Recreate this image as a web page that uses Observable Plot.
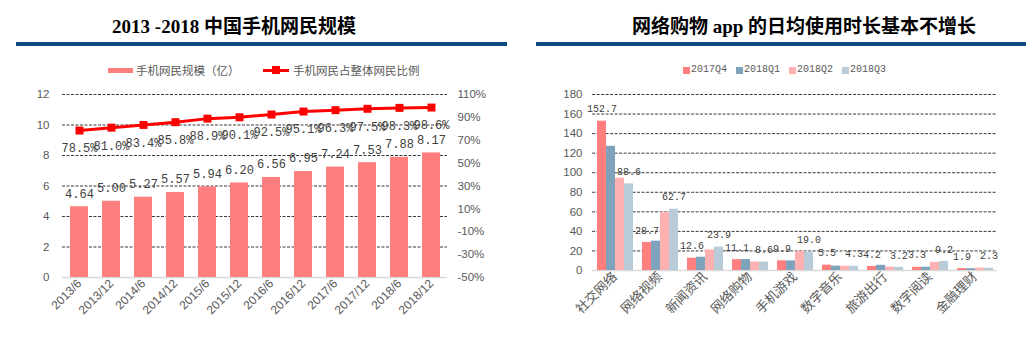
<!DOCTYPE html>
<html><head><meta charset="utf-8">
<script src="https://cdn.jsdelivr.net/npm/d3@7"></script>
<script src="https://cdn.jsdelivr.net/npm/@observablehq/plot@0.6"></script>
<style>
body{margin:0;background:#fff;width:1034px;height:345px;position:relative;overflow:hidden;font-family:"Liberation Sans",Arial,sans-serif;}
.title{position:absolute;top:14px;font-family:"Liberation Serif","Noto Sans CJK SC",serif;font-weight:bold;font-size:19px;color:#000;white-space:nowrap;transform:translateX(-50%);line-height:26px}
.rule{position:absolute;top:42px;height:4px;background:#0d4a80}
.lg{position:absolute;top:62px;height:16px;line-height:16px;font-size:11.5px;color:#595959;white-space:nowrap;font-family:"Noto Sans CJK SC",sans-serif}
.lgm{position:absolute;top:62px;height:16px;line-height:16px;font-size:10px;color:#595959;white-space:nowrap;font-family:"Liberation Mono",monospace}
.sw{position:absolute}
.plot{position:absolute;top:80px}
</style></head>
<body>
<div class="title" style="left:234px">2013 -2018 中国手机网民规模</div>
<div class="rule" style="left:16px;width:491px"></div>
<div class="title" style="left:804px">网络购物 app 的日均使用时长基本不增长</div>
<div class="rule" style="left:536px;width:490px"></div>
<div id="legL"></div>
<div id="legR"></div>
<div id="left" class="plot" style="left:0"></div>
<div id="right" class="plot" style="left:520px"></div>
<script>
// ---- Left chart data ----
const periods = ["2013/6","2013/12","2014/6","2014/12","2015/6","2015/12","2016/6","2016/12","2017/6","2017/12","2018/6","2018/12"];
const users = [4.64,5.00,5.27,5.57,5.94,6.20,6.56,6.95,7.24,7.53,7.88,8.17];
const shares = [78.5,81.0,83.4,85.8,88.9,90.1,92.5,95.1,96.3,97.5,98.3,98.6];
const leftTicks = [0,2,4,6,8,10,12];
const pctTicks = [-50,-30,-10,10,30,50,70,90,110];
const pctMin = -50, pctMax = 110;
const leftSeries = ["手机网民规模（亿）","手机网民占整体网民比例"];

// ---- Right chart data ----
const apps = ["社交网络","网络视频","新闻资讯","网络购物","手机游戏","数字音乐","旅游出行","数字阅读","金融理财"];
const quarters = ["2017Q4","2018Q1","2018Q2","2018Q3"];
const q2017Q4 = [152.7,28.7,12.6,11.1,9.9,5.5,4.2,3.3,1.9];
const q2018Q1 = [127.0,30.0,13.6,11.2,9.8,4.5,5.3,3.4,1.8];
const q2018Q2 = [94.4,59.6,21.0,8.7,19.5,4.4,3.4,8.3,2.4];
const q2018Q3 = [88.6,62.7,23.9,8.6,19.0,4.3,3.2,9.2,2.3];
const rightTicks = [0,20,40,60,80,100,120,140,160,180];
const labeledQuarters = ["2017Q4","2018Q3"];

const barColor = "#ff7f7f", lineColor = "#ff0000";
const qColors = ["#ff7f7f","#7fa3bd","#ffb0b0","#b7cbd9"];

const toLeft = p => (p - pctMin) / (pctMax - pctMin) * 12;
const fromLeft = v => v / 12 * (pctMax - pctMin) + pctMin;
const leftData = periods.map((p,i)=>({period:p, users:users[i], share:shares[i], shareY:toLeft(shares[i])}));

const axisStyle = {fontFamily:"Liberation Sans, Arial, sans-serif", fontSize:"11.5px", color:"#595959", background:"transparent", overflow:"visible"};

const left = Plot.plot({
  width:517, height:265, marginLeft:62, marginRight:70, marginTop:14, marginBottom:68,
  style: axisStyle,
  x:{domain:periods, paddingInner:0.44, paddingOuter:0.22, label:null},
  y:{domain:[0,12], label:null},
  marks:[
    Plot.ruleY(leftTicks.slice(1), {stroke:"#222", strokeWidth:0.9, strokeDasharray:"3,1.5"}),
    Plot.ruleY([0], {stroke:"#d9d9d9", strokeWidth:1.5}),
    Plot.barY(leftData, {x:"period", y:"users", fill:barColor}),
    Plot.text(leftData, {x:"period", y:"users", text:d=>d.users.toFixed(2), dy:-13, fontFamily:"Liberation Mono, monospace", fontSize:12, fill:"#404040"}),
    Plot.line(leftData, {x:"period", y:"shareY", stroke:lineColor, strokeWidth:3}),
    Plot.dot(leftData, {x:"period", y:"shareY", symbol:"square", fill:lineColor, r:4.5}),
    Plot.text(leftData, {x:"period", y:"shareY", text:d=>d.share.toFixed(1)+"%", dy:18, fontFamily:"Liberation Mono, monospace", fontSize:12, fill:"#404040"}),
    Plot.axisY({ticks:leftTicks, anchor:"left", tickSize:0, tickPadding:13, label:null}),
    Plot.axisY({ticks:pctTicks.map(toLeft), anchor:"right", tickSize:0, tickPadding:10, label:null, tickFormat:v=>Math.round(fromLeft(v))+"%"}),
    Plot.axisX({tickRotate:-45, tickSize:0, tickPadding:4, fontSize:12, label:null})
  ]
});
document.getElementById("left").append(left);

const series = [q2017Q4,q2018Q1,q2018Q2,q2018Q3];
const rightData = apps.flatMap((a,i)=>quarters.map((q,j)=>({app:a, quarter:q, value:series[j][i]})));

const right = Plot.plot({
  width:514, height:265, marginLeft:69, marginRight:33, marginTop:14, marginBottom:75,
  style: axisStyle,
  fx:{domain:apps, paddingInner:0.17, paddingOuter:0.085, label:null},
  x:{domain:quarters, padding:0, axis:null},
  y:{domain:[0,180], label:null},
  color:{domain:quarters, range:qColors},
  marks:[
    Plot.ruleY(rightTicks.slice(1), {stroke:"#222", strokeWidth:0.9, strokeDasharray:"3,1.5", insetLeft:-3.9, insetRight:-3.9}),
    Plot.ruleY([0], {stroke:"#d9d9d9", strokeWidth:1.5, insetLeft:-3.9, insetRight:-3.9}),
    Plot.barY(rightData, {fx:"app", x:"quarter", y:"value", fill:"quarter"}),
    Plot.text(rightData.filter(d=>labeledQuarters.includes(d.quarter)), {fx:"app", x:"quarter", y:"value", text:d=>d.value.toFixed(1), dy:-12, fontFamily:"Liberation Mono, monospace", fontSize:10, fill:"#404040"}),
    Plot.axisY({ticks:rightTicks, tickSize:0, tickPadding:14, label:null}),
    Plot.axisFx({anchor:"bottom", tickRotate:-45, tickSize:0, tickPadding:4, fontSize:13, label:null, fontFamily:"Noto Sans CJK SC, sans-serif"})
  ]
});
document.getElementById("right").append(right);

// ---- Legends ----
const legL = document.getElementById("legL");
legL.innerHTML =
  `<div class="sw" style="left:108px;top:68px;width:25px;height:4.5px;background:${barColor}"></div>`+
  `<div class="lg" style="left:136px">${leftSeries[0]}</div>`+
  `<div class="sw" style="left:263px;top:68.5px;width:26px;height:3px;background:${lineColor}"></div>`+
  `<div class="sw" style="left:272px;top:66px;width:8px;height:8px;background:${lineColor}"></div>`+
  `<div class="lg" style="left:293px">${leftSeries[1]}</div>`;
const legR = document.getElementById("legR");
const legX = [683,736,789,842];
legR.innerHTML = quarters.map((q,i)=>
  `<div class="sw" style="left:${legX[i]}px;top:67px;width:6.5px;height:6.5px;background:${qColors[i]}"></div>`+
  `<div class="lgm" style="left:${legX[i]+8}px">${q}</div>`).join("");
</script>
</body></html>
